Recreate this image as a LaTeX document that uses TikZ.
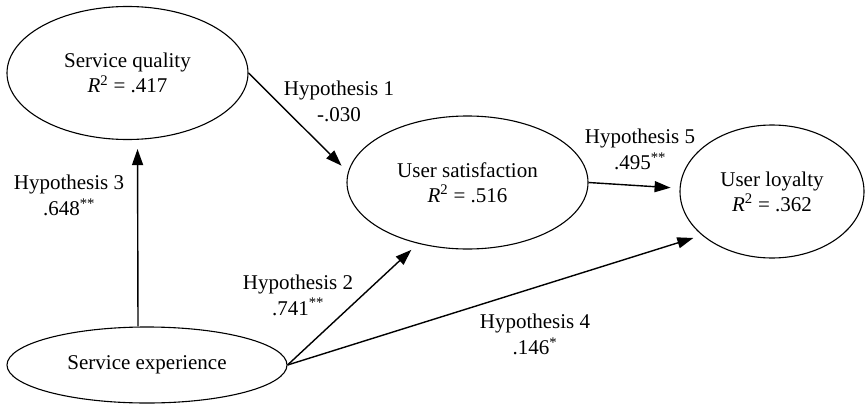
\documentclass[tikz,border=0pt]{standalone}
\usepackage{fontspec}
\setmainfont{Liberation Serif}
\usetikzlibrary{shapes.geometric,arrows.meta}
\begin{document}
\begin{tikzpicture}[x=1pt,y=-1pt,
        constructo/.style={ellipse,draw,line width=1.1pt,inner sep=0pt,align=center,font=\fontsize{21}{25}\selectfont},
        flecha/.style={line width=1.4pt,-{Triangle[length=16pt,width=11pt]},shorten >=9pt},
        etiqueta/.style={align=center,inner sep=0pt,font=\fontsize{21}{26}\selectfont}]
        % Area
        \useasboundingbox (0,0) rectangle (866,404);

        % Constructos
        \node[constructo,minimum width=241pt,minimum height=133pt] (sq) at (127.5,73) {Service quality\\\textit{R}\textsuperscript{2} = .417};
        \node[constructo,minimum width=241pt,minimum height=133pt] (us) at (467.5,182.5) {User satisfaction\\\textit{R}\textsuperscript{2} = .516};
        \node[constructo,minimum width=184pt,minimum height=133pt] (ul) at (772,191.5) {User loyalty\\\textit{R}\textsuperscript{2} = .362};
        \node[constructo,minimum width=280pt,minimum height=76pt] (se) at (147,365) {Service experience};

        % Hipotesis
        \draw[flecha] (sq.east) -- (us.175);
        \draw[flecha] (us.east) -- (ul.178);
        \draw[flecha] ([xshift=-9pt]se.north) -- ([xshift=10pt]sq.south);
        \draw[flecha] (se.east) -- (us.231);
        \draw[flecha] (se.east) -- (ul.212);

        % Etiquetas
        \node[etiqueta] (h1) at (339,101) {Hypothesis 1\\-.030};
        \node[etiqueta] (h5) at (640,149.5) {Hypothesis 5\\.495\textsuperscript{**}};
        \node[etiqueta] (h3) at (69,195.5) {Hypothesis 3\\.648\textsuperscript{**}};
        \node[etiqueta] (h2) at (298,295) {Hypothesis 2\\.741\textsuperscript{**}};
        \node[etiqueta] (h4) at (535,334.5) {Hypothesis 4\\.146\textsuperscript{*}};
    \end{tikzpicture}
\end{document}
